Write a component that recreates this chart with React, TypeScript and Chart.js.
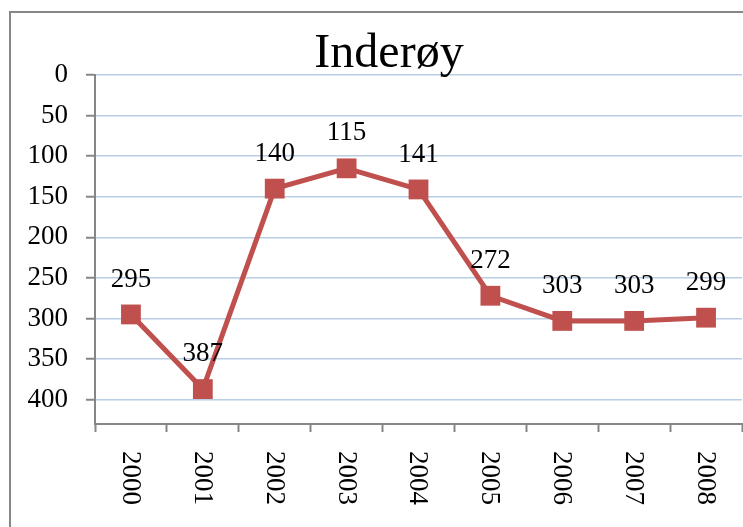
import React, { useEffect, useRef } from "react";
import { Chart, registerables } from "chart.js";

Chart.register(...registerables);

const chartTitle = "Inderøy";
const categories = ["2000", "2001", "2002", "2003", "2004", "2005", "2006", "2007", "2008"];
const values = [295, 387, 140, 115, 141, 272, 303, 303, 299];
const yTicks = [0, 50, 100, 150, 200, 250, 300, 350, 400];

const FONT = '"Liberation Serif", "Times New Roman", serif';
const RED = "#c0504d";
const AXIS = "#868686";
const GRID = "#b9cde5";

const overlayPlugin = {
  id: "overlay",
  afterDraw(chart: any) {
    const ctx = chart.ctx;
    const area = chart.chartArea;
    const xs = chart.scales.x;
    ctx.save();
    ctx.fillStyle = "#000";
    // title
    ctx.font = `48px ${FONT}`;
    ctx.textAlign = "center";
    ctx.textBaseline = "alphabetic";
    ctx.fillText(chartTitle, 389, 67);
    // x labels rotated clockwise
    ctx.font = `27px ${FONT}`;
    categories.forEach((c, i) => {
      const x = xs.getPixelForTick(i);
      ctx.save();
      ctx.translate(x - 1, area.bottom + 27);
      ctx.rotate(Math.PI / 2);
      ctx.textAlign = "left";
      ctx.textBaseline = "middle";
      ctx.fillText(c, 0, 0);
      ctx.restore();
    });
    // data labels
    const meta = chart.getDatasetMeta(0);
    ctx.font = `27px ${FONT}`;
    ctx.textAlign = "center";
    ctx.textBaseline = "middle";
    meta.data.forEach((pt: any, i: number) => {
      ctx.fillText(String(values[i]), pt.x, pt.y - 35);
    });
    ctx.restore();
  },
};

export default function App() {
  const ref = useRef<HTMLCanvasElement | null>(null);
  useEffect(() => {
    if (!ref.current) return;
    const chart = new Chart(ref.current, {
      type: "line",
      data: {
        labels: categories,
        datasets: [
          {
            data: values,
            borderColor: RED,
            backgroundColor: RED,
            borderWidth: 5,
            pointStyle: "rect",
            pointRadius: 14,
            pointBackgroundColor: RED,
            pointBorderColor: RED,
            pointBorderWidth: 0,
            tension: 0,
          },
        ],
      },
      options: {
        responsive: false,
        animation: false,
        layout: { autoPadding: false, padding: { top: 75, left: 0, right: 1, bottom: 0 } },
        plugins: {
          legend: { display: false },
          title: { display: false },
          tooltip: { enabled: false },
        },
        scales: {
          x: {
            type: "category",
            offset: true,
            grid: {
              display: true,
              drawOnChartArea: false,
              drawTicks: true,
              tickLength: 8,
              tickColor: AXIS,
              tickWidth: 2,
              offset: true,
            },
            border: { display: true, color: AXIS, width: 2 },
            ticks: { display: false },
            afterFit(scale: any) {
              scale.height = 103;
            },
          },
          y: {
            type: "linear",
            reverse: true,
            min: 0,
            max: 430,
            afterBuildTicks(scale: any) {
              scale.ticks = yTicks.map((v) => ({ value: v }));
            },
            grid: {
              color: GRID,
              lineWidth: 1.5,
              drawTicks: true,
              tickLength: 9,
              tickColor: AXIS,
              tickWidth: 2,
            },
            border: { display: true, color: AXIS, width: 2 },
            ticks: {
              color: "#000",
              font: { family: FONT, size: 27 },
              padding: 18,
            },
            afterFit(scale: any) {
              scale.width = 95;
            },
          },
        },
      },
      plugins: [overlayPlugin],
    });
    return () => chart.destroy();
  }, []);

  return (
    <div
      style={{
        position: "fixed",
        left: 0,
        top: 0,
        width: 743,
        height: 527,
        overflow: "hidden",
        background: "#fff",
      }}
    >
      <div
        style={{
          position: "absolute",
          left: 9,
          top: 11,
          width: 800,
          height: 600,
          borderLeft: "2px solid #878787",
          borderTop: "2px solid #878787",
        }}
      />
      <canvas
        ref={ref}
        width={743}
        height={527}
        style={{ position: "absolute", left: 0, top: 0, display: "block" }}
      />
    </div>
  );
}
